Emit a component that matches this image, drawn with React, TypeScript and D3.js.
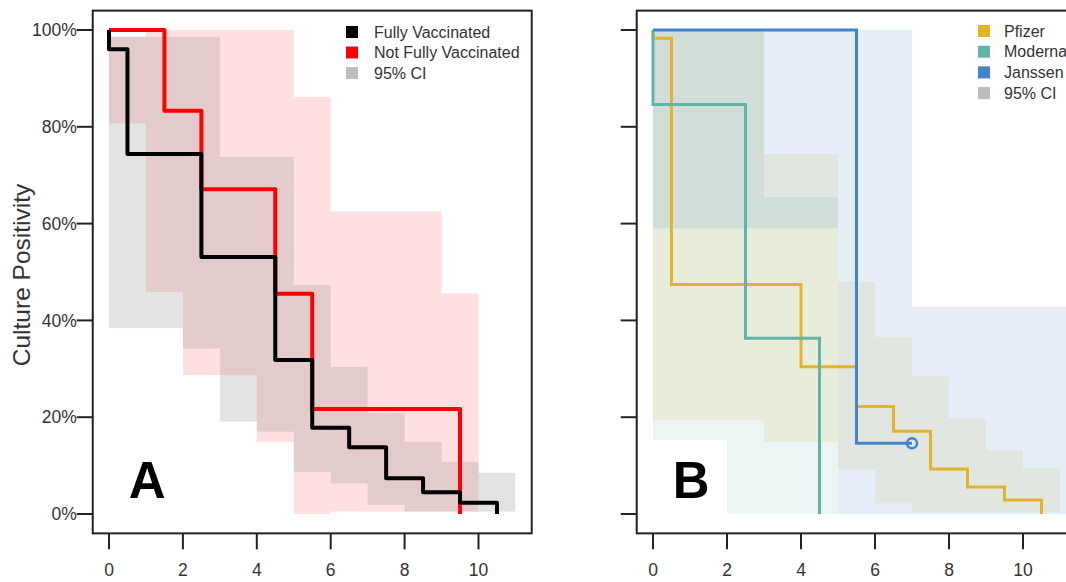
import React from 'react';
import * as d3 from 'd3';

// Panel A: fully vs not fully vaccinated (step curves, % culture positive)
const fvTimes = [0, 0.5, 2.5, 4.5, 5.5, 6.5, 7.5, 8.5, 9.5, 10.5];
const fvSurv = [96, 74.4, 53.1, 31.8, 17.8, 13.8, 7.4, 4.5, 2.3, 0];
const nfvTimes = [1.5, 2.5, 4.5, 5.5, 9.5];
const nfvSurv = [83.3, 67.1, 45.5, 21.7, 0];

// 95% CI bands: [t0, t1, lower, upper]
const fvCI = [
  [0, 1, 38.4, 98.6], [1, 2, 38.4, 98.6], [2, 3, 34.2, 98.6], [3, 4, 19.1, 73.8],
  [4, 5, 17.0, 73.8], [5, 6, 8.7, 47.3], [6, 7, 6.3, 30.4], [7, 8, 1.9, 20.8],
  [8, 9, 0.5, 14.9], [9, 10, 0.5, 10.8], [10, 11, 0.5, 8.5],
];
const nfvCI = [
  [0, 1, 80.7, 98.6], [1, 2, 45.9, 100], [2, 3, 28.7, 100], [3, 4, 28.7, 100],
  [4, 5, 14.9, 100], [5, 6, 0, 86.2], [6, 7, 0.5, 62.5], [7, 8, 0.5, 62.5],
  [8, 9, 0.5, 62.5], [9, 10, 0.5, 45.6],
];

// Panel B: by vaccine
const pfizerTimes = [0, 0.5, 4, 5.5, 6.5, 7.5, 8.5, 9.5, 10.5];
const pfizerSurv = [98.3, 47.4, 30.4, 22.2, 17.1, 9.3, 5.6, 2.9, 0];
const modernaTimes = [0, 2.5, 4.5];
const modernaSurv = [84.6, 36.3, 0];
const janssenTimes = [5.5, 7];
const janssenSurv = [14.6, 14.6];
const janssenCensor = [[7, 14.6]];

const pfizerCI = [
  [0, 3, 19.4, 100], [3, 5, 14.9, 74.4], [5, 6, 9.1, 48], [6, 7, 2.2, 36.6],
  [7, 8, 0.5, 28.4], [8, 9, 0.5, 19.8], [9, 10, 0.5, 13.2], [10, 11, 0.5, 9.4],
];
const modernaCI = [[0, 2, 15.3, 100], [2, 3, 0, 100], [3, 5, 0, 65.5]];
const janssenCI = [[0, 5, 59, 100], [5, 7, 0, 100], [7, 12, 0, 42.8]];

const yTicks = [0, 20, 40, 60, 80, 100];
const xTicks = [0, 2, 4, 6, 8, 10];
const legendA = ['Fully Vaccinated', 'Not Fully Vaccinated', '95% CI'];
const legendB = ['Pfizer', 'Moderna', 'Janssen', '95% CI'];

const FONT = 'Liberation Sans, Arial, Helvetica, sans-serif';
const C_PF = '#e3b32d';
const C_MO = '#62b5a5';
const C_JA = '#4184ca';

const y = d3.scaleLinear().domain([0, 100]).range([514, 30]);

function stepPath(x, times, surv) {
  const pts = [[0, 100], ...times.map((t, i) => [t, surv[i]])];
  return d3.line().x(d => x(d[0])).y(d => y(d[1])).curve(d3.curveStepAfter)(pts);
}

function Bands({ x, data, fill, opacity }) {
  return (
    <g>
      {data.map((d, i) => (
        <rect key={i} x={x(d[0])} width={x(d[1]) - x(d[0])} y={y(d[3])} height={y(d[2]) - y(d[3])}
          fill={fill} fillOpacity={opacity} />
      ))}
    </g>
  );
}

function Frame({ x, id, yLabels }) {
  const x0 = x(-0.44), x1 = x(11.44), y0 = y(104), y1 = y(-4);
  return (
    <g>
      <rect x={x0} y={y0} width={x1 - x0} height={y1 - y0} fill="none" stroke="#222" strokeWidth={2} />
      {yTicks.map(t => (
        <g key={t}>
          <line x1={x0 - 16} x2={x0} y1={y(t)} y2={y(t)} stroke="#222" strokeWidth={2} />
          {yLabels && (
            <text x={x0 - 16} y={y(t)} dy="0.35em" textAnchor="end" fontSize={17.5} fill="#333" fontFamily={FONT}>{t}%</text>
          )}
        </g>
      ))}
      {xTicks.map(t => (
        <g key={t}>
          <line x1={x(t)} x2={x(t)} y1={y1} y2={y1 + 16} stroke="#222" strokeWidth={2} />
          <text x={x(t)} y={y1 + 43} textAnchor="middle" fontSize={17.5} fill="#333" fontFamily={FONT}>{t}</text>
        </g>
      ))}
      <text x={x0 + 36} y={y(3.3)} fontSize={51} fontWeight="bold" fill="#000" fontFamily={FONT}>{id}</text>
    </g>
  );
}

export default function App() {
  const xA = d3.scaleLinear().domain([0, 10]).range([109, 478.5]);
  const xB = d3.scaleLinear().domain([0, 10]).range([653, 1023]);
  const clipB = { x: xB(-0.44), y: y(104), w: xB(11.44) - xB(-0.44), h: y(-4) - y(104) };

  return (
    <svg width={1066} height={582} style={{ position: 'absolute', left: 0, top: 0, background: '#fff' }}>
      <defs>
        <clipPath id="clipB">
          <rect x={clipB.x} y={clipB.y} width={clipB.w} height={clipB.h} />
        </clipPath>
      </defs>

      {/* Panel A */}
      <Bands x={xA} data={nfvCI} fill="#ff0000" opacity={0.12} />
      <Bands x={xA} data={fvCI} fill="#808080" opacity={0.22} />
      <path d={stepPath(xA, nfvTimes, nfvSurv)} fill="none" stroke="#ff0000" strokeWidth={4} strokeLinejoin="round" />
      <path d={stepPath(xA, fvTimes, fvSurv)} fill="none" stroke="#000" strokeWidth={4} strokeLinejoin="round" />
      <Frame x={xA} id="A" yLabels />
      <text transform="translate(30,275) rotate(-90)" textAnchor="middle" fontSize={24.5} fill="#333" fontFamily={FONT}>Culture Positivity</text>
      {legendA.map((s, i) => (
        <g key={s} transform={`translate(346,${32 + i * 20.5})`}>
          <rect x={0} y={-6} width={12} height={12} fill={['#000', '#ff0000', '#bdbdbd'][i]} />
          <text x={28} y={0} dy="0.35em" fontSize={16} fill="#333" fontFamily={FONT}>{s}</text>
        </g>
      ))}

      {/* Panel B */}
      <g clipPath="url(#clipB)">
        <Bands x={xB} data={pfizerCI} fill={C_PF} opacity={0.13} />
        <Bands x={xB} data={modernaCI} fill={C_MO} opacity={0.13} />
        <Bands x={xB} data={janssenCI} fill={C_JA} opacity={0.13} />
        <path d={stepPath(xB, pfizerTimes, pfizerSurv)} fill="none" stroke={C_PF} strokeWidth={3} />
        <path d={stepPath(xB, modernaTimes, modernaSurv)} fill="none" stroke={C_MO} strokeWidth={3} />
        <path d={stepPath(xB, janssenTimes, janssenSurv)} fill="none" stroke={C_JA} strokeWidth={3} />
        {janssenCensor.map((d, i) => (
          <circle key={i} cx={xB(d[0])} cy={y(d[1])} r={5} fill="none" stroke={C_JA} strokeWidth={2.5} />
        ))}
      </g>
      <Frame x={xB} id="B" yLabels={false} />
      {legendB.map((s, i) => (
        <g key={s} transform={`translate(978,${31 + i * 20.7})`}>
          <rect x={0} y={-6} width={12} height={12} fill={[C_PF, C_MO, C_JA, '#bdbdbd'][i]} />
          <text x={26} y={0} dy="0.35em" fontSize={16} fill="#333" fontFamily={FONT}>{s}</text>
        </g>
      ))}
    </svg>
  );
}
